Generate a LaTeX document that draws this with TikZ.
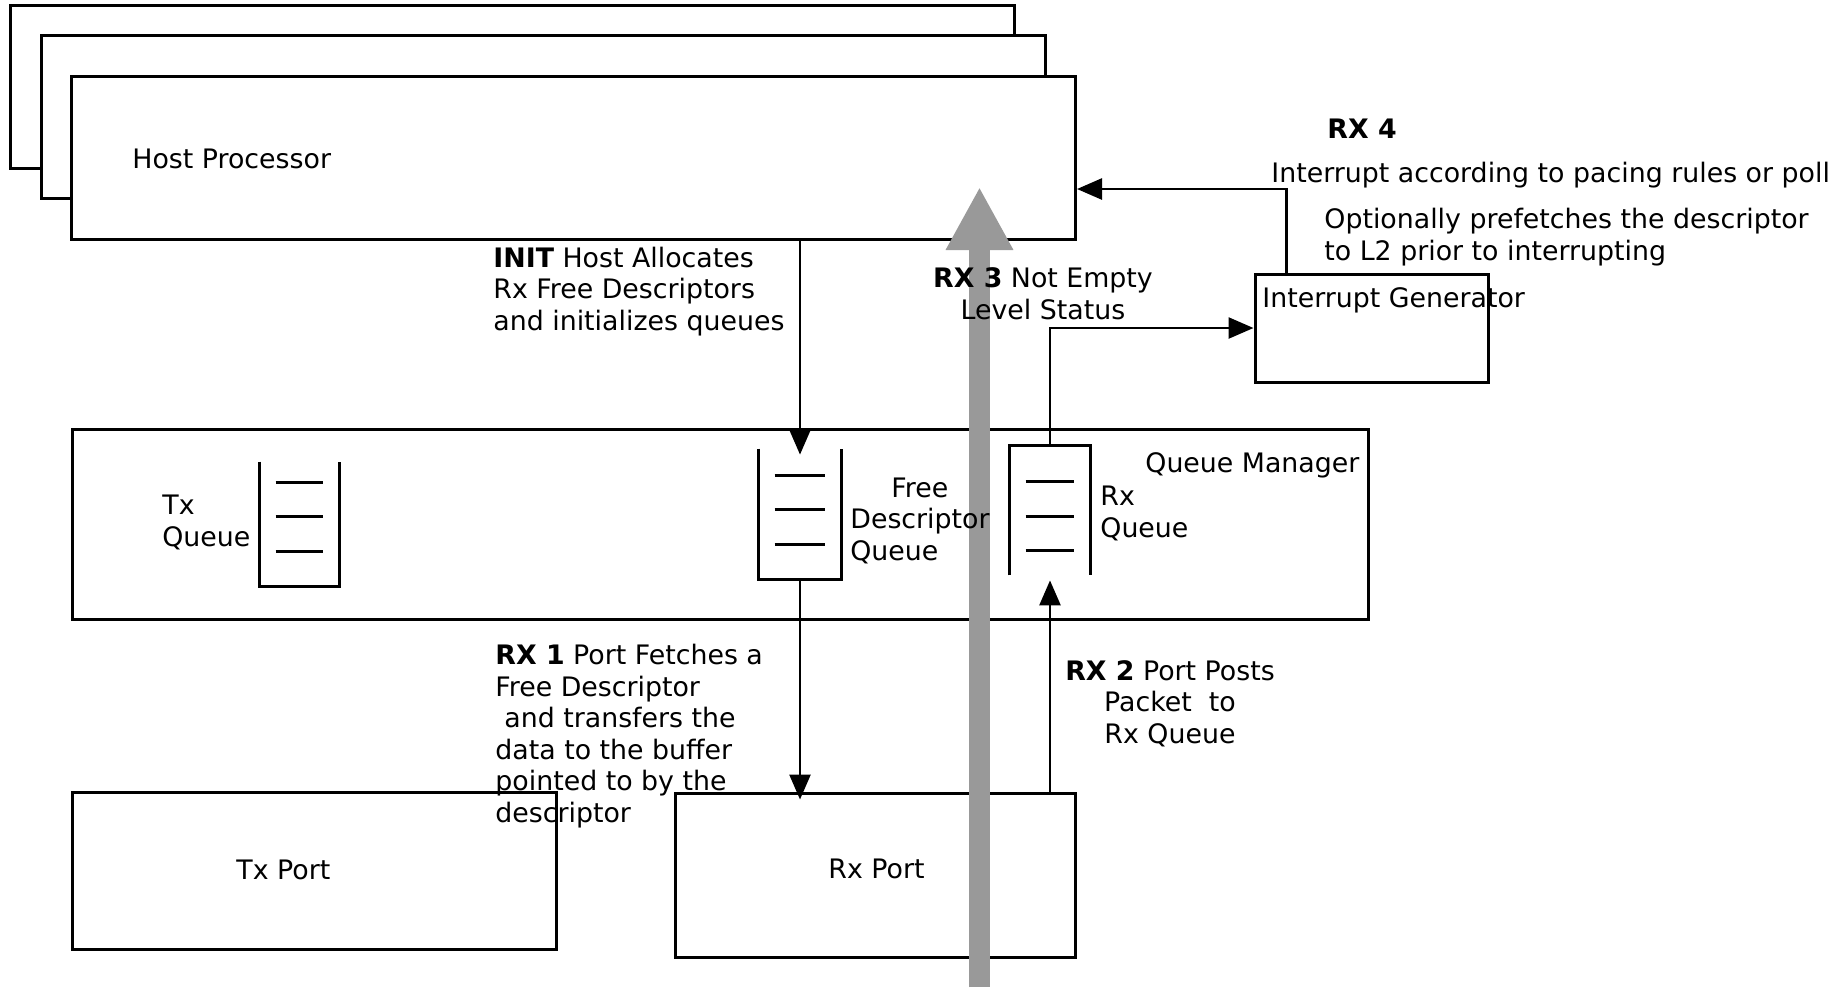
\documentclass[tikz,border=0pt]{standalone}
\usepackage{fontspec}
\setmainfont{DejaVu Sans}
\usepackage{tikz}
\usetikzlibrary{arrows.meta,calc}
\tikzset{>={Triangle[width=10.5pt,length=12.5pt]}}
\usepackage{xcolor}
\definecolor{bandgray}{HTML}{999999}

\begin{document}
\begin{tikzpicture}[x=0.5pt,y=-0.5pt,
    font=\fontsize{13.4}{15.75}\selectfont,
    box/.style={draw, line width=1.5pt, fill=white, inner sep=0pt},
    qbox/.style={inner sep=0pt},
    qline/.style={line width=1.5pt},
    flow/.style={->, line width=1.3pt},
    txt/.style={inner sep=0pt, anchor=base west, align=left},
    ctxt/.style={inner sep=0pt, anchor=base, align=center}]
                \useasboundingbox (0,0) rectangle (1833,987);
                % host processor stack
                \node[box, minimum width=502pt, minimum height=81.5pt] (hostc) at (512.5,86.5) {};
                \node[box, minimum width=502pt, minimum height=81.5pt] (hostb) at (543.5,117) {};
                \node[box, minimum width=502pt, minimum height=81.5pt] (host) at (573.5,157.5) {};
                % queue manager, ports, interrupt generator
                \node[box, minimum width=648pt, minimum height=95pt] (qm) at (720,524) {};
                \node[box, minimum width=242pt, minimum height=78.5pt] (txport) at (314,870.5) {};
                \node[box, minimum width=200pt, minimum height=82pt] (rxport) at (875,875) {};
                \node[box, minimum width=116.5pt, minimum height=54pt] (intgen) at (1371.5,328) {};
                % queues
                \node[qbox, minimum width=39.5pt, minimum height=62pt] (txq) at (299.5,524) {};
                \node[qbox, minimum width=41pt, minimum height=65pt] (freeq) at (800,514) {};
                \node[qbox, minimum width=40pt, minimum height=64.5pt] (rxq) at (1050,510.5) {};
                \foreach \q in {txq,freeq} {
                    \draw[qline] (\q.north west) |- (\q.south) -| (\q.north east);
                    \foreach \d in {35,70,104}
                        \draw[qline] ($(\q.south west)+(16,-\d)$) -- ($(\q.south east)+(-16,-\d)$);
                }
                \draw[qline] (rxq.south west) |- (rxq.north) -| (rxq.south east);
                \foreach \d in {36,71,105}
                    \draw[qline] ($(rxq.north west)+(16,\d)$) -- ($(rxq.north east)+(-16,\d)$);
                % connectors
                \draw[flow] (host.south -| freeq) -- ([yshift=-3pt]freeq.north);
                \draw[flow] (freeq.south) -- ([yshift=-4pt]freeq.south |- rxport.north);
                \draw[flow] (rxport.north -| rxq) -- ([yshift=-2.5pt]rxq.south);
                \draw[flow] (rxq.north) |- (intgen.west);
                \draw[flow] ([xshift=16.5pt]intgen.north west) |- ([yshift=-15.75pt]host.east);
                % RX 3 status band
                \coordinate (bandfoot) at (979.5,987);
                \coordinate (bandtip) at (979.5,187);
                \draw[bandgray, line width=10.5pt, -{Triangle[width=31.5pt,length=31.5pt]}] (bandfoot) -- (bandtip);
                % labels (base = last line)
                \node[txt] (hostlbl) at (132,168) {Host Processor};
                \node[txt] (qmlbl) at (1145,472) {Queue Manager};
                \node[txt] (txqlbl) at (162,546) {Tx\\Queue};
                \node[txt] (freeqlbl) at (850,560) {\hspace*{20.5pt}Free\\Descriptor\\Queue};
                \node[txt] (rxqlbl) at (1100,537) {Rx\\Queue};
                \node[txt] (txportlbl) at (236,879) {Tx Port};
                \node[txt] (rxportlbl) at (828,878) {Rx Port};
                \node[txt] (intgenlbl) at (1262,307) {Interrupt Generator};
                \node[txt] (initlbl) at (493,330) {\textbf{INIT} Host Allocates\\Rx Free Descriptors\\and initializes queues};
                \node[ctxt] (rxthreelbl) at (1043,319) {\textbf{RX 3} Not Empty\\Level Status};
                \node[txt] (rxonelbl) at (495,822) {\textbf{RX 1} Port Fetches a\\Free Descriptor\\\hspace*{4.5pt}and transfers the\\data to the buffer\\pointed to by the\\descriptor};
                \node[ctxt] (rxtwolbl) at (1170,743) {\textbf{RX 2} Port Posts\\Packet\ \ to\\Rx Queue};
                \node[txt] (rxfourlbl) at (1327,138) {\textbf{RX 4}};
                \node[txt] (pacelbl) at (1271,182) {Interrupt according to pacing rules or poll};
                \node[txt] (prefetchlbl) at (1324,260) {Optionally prefetches the descriptor\\to L2 prior to interrupting};
\end{tikzpicture}
\end{document}
